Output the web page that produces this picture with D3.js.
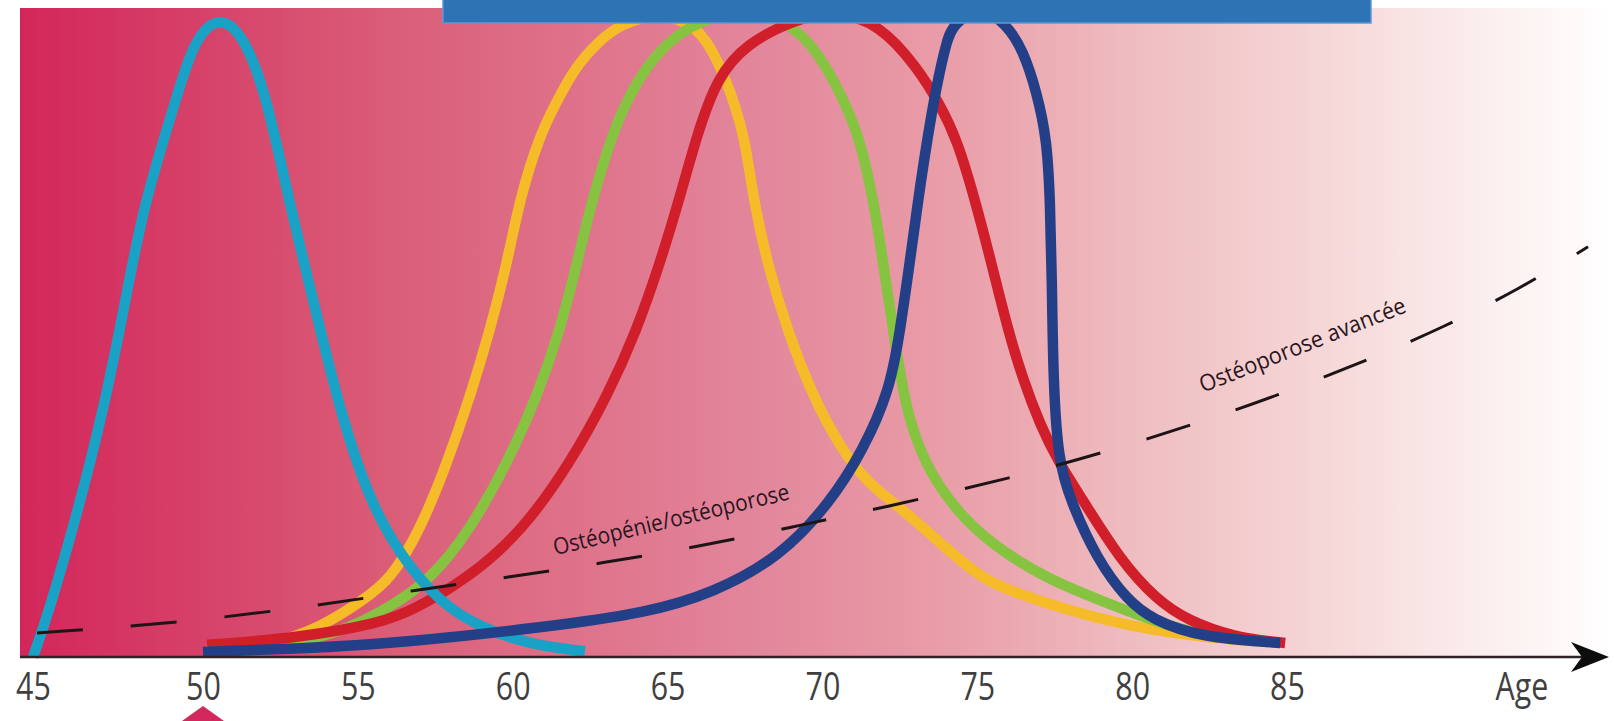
<!DOCTYPE html>
<html><head><meta charset="utf-8">
<script src="https://cdn.jsdelivr.net/npm/d3@7"></script>
<style>html,body{margin:0;padding:0;background:#fff;overflow:hidden}</style>
</head><body><svg id="c" width="1615" height="721"></svg>
<script>
// ---- data (age, relative height 0-100) ----
const tickValues = [45, 50, 55, 60, 65, 70, 75, 80, 85];
const axisTitle = "Age";

const cyanCurve = [[45.00,0],[45.44,6.6],[46.29,22.2],[47.06,38.3],[47.68,54.5],[48.24,70.5],[49.18,86.6],[49.71,96.3],[50.55,100.6],[51.42,96.3],[52.10,86.6],[52.81,70.5],[53.62,54.5],[54.42,38.4],[55.46,23.0],[56.78,13.1],[57.88,7.8],[58.94,4.7],[60.56,1.9],[62.33,0.9]];

const yellowCurve = [[50.13,1.1],[52.07,1.7],[53.78,4.5],[55.17,8.9],[56.04,12.0],[57.01,19.8],[57.88,30.3],[58.62,40.6],[59.27,51.1],[59.82,61.6],[60.24,71.9],[60.88,81.6],[61.37,86.3],[62.01,92.2],[62.82,96.4],[63.46,98.8],[64.69,100.8],[65.95,98.8],[66.63,93.3],[67.18,86.3],[67.50,80.8],[67.76,71.9],[68.21,61.6],[68.86,51.1],[69.70,40.6],[70.57,32.8],[71.44,27.2],[72.51,23.4],[73.80,17.8],[75.02,12.8],[75.73,10.9],[77.90,7.3],[80.03,4.7],[82.19,3.1],[84.78,2.2]];

const greenCurve = [[50.23,1.1],[53.13,2.2],[54.75,4.5],[56.04,7.8],[57.33,12.0],[58.62,19.8],[59.82,30.3],[60.78,40.6],[61.53,51.1],[62.08,61.6],[62.59,71.9],[63.21,81.6],[63.69,87.0],[64.43,93.3],[65.63,98.8],[67.40,101.4],[69.18,98.8],[70.15,92.2],[70.79,85.9],[71.21,80.8],[71.63,71.9],[71.96,61.6],[72.28,51.1],[72.70,38.6],[73.15,32.3],[73.70,27.0],[74.60,21.4],[75.73,16.7],[77.35,12.0],[78.96,8.9],[80.58,5.8],[82.19,3.4],[84.78,2.2]];

const redCurve = [[50.13,1.9],[53.13,3.0],[55.72,5.3],[56.78,7.3],[58.62,12.5],[60.33,19.8],[61.85,30.3],[63.04,40.6],[64.01,51.1],[64.76,61.6],[65.40,71.9],[65.95,81.6],[66.60,90.6],[67.57,95.9],[69.05,99.5],[70.44,101.1],[71.86,98.8],[73.05,92.2],[73.80,86.3],[74.35,80.8],[74.93,71.4],[75.51,60.5],[75.99,51.1],[76.48,43.3],[77.03,36.3],[77.58,30.8],[78.41,24.5],[79.61,15.2],[80.80,8.9],[81.77,5.8],[83.26,3.1],[84.94,2.2]];

const blueCurve = [[50.00,0.8],[53.13,1.3],[56.36,2.2],[61.11,4.7],[64.34,6.9],[66.47,10.0],[68.63,15.6],[70.25,24.1],[71.31,32.3],[72.18,41.7],[72.51,51.1],[72.83,62.0],[73.09,71.4],[73.38,80.8],[73.70,89.7],[74.02,96.4],[74.22,98.8],[75.09,101.9],[75.96,98.8],[76.48,94.8],[76.93,88.1],[77.25,80.8],[77.35,71.4],[77.41,58.9],[77.45,43.3],[77.61,30.8],[78.00,24.5],[78.87,15.2],[79.84,8.9],[80.67,5.8],[82.19,3.1],[84.78,2.2]];

const dashedCurve = [[45.12,3.75],[49.26,5.3],[53.84,8.1],[56.91,10.5],[59.91,12.5],[62.92,14.7],[65.95,17.2],[69.02,20.3],[71.92,23.3],[76.22,28.1],[79.12,32.0],[81.97,36.3],[84.71,40.9],[87.46,46.1],[90.10,51.6],[92.62,57.8],[94.72,64.1]];

const labelTexts = ["Ostéopénie/ostéoporose", "Ostéoporose avancée"];
const labelAnchors = [[61.37, 15.9], [82.29, 41.3]];

// ---- drawing ----
const svg = d3.select("#c");
const x = d3.scaleLinear().domain([45, 50, 85]).range([33, 203, 1287]);
const y = d3.scaleLinear().domain([0, 100]).range([657, 17]);
const base = y(0);

const defs = svg.append("defs");
const grad = defs.append("linearGradient").attr("id","bg").attr("x1","0").attr("x2","1").attr("y1","0").attr("y2","0");
[[0,"#d3265a"],[0.12,"#d6436a"],[0.23,"#da5d77"],[0.45,"#e2849a"],[0.56,"#e899a5"],[0.62,"#eba7af"],[0.69,"#eebbbf"],[0.80,"#f5d3d4"],[0.89,"#fae8e8"],[0.96,"#fef7f7"],[1,"#ffffff"]]
  .forEach(([o,c]) => grad.append("stop").attr("offset", o).attr("stop-color", c));

svg.append("rect").attr("x", 20).attr("y", 8).attr("width", 1595).attr("height", base - 8).attr("fill", "url(#bg)");

const line = d3.line().x(d => x(d[0])).y(d => y(d[1])).curve(d3.curveBasis);

const series = [
  [yellowCurve, "#f6bb29"],
  [greenCurve, "#86c341"],
  [redCurve, "#d01f2b"],
  [cyanCurve, "#1aa2c6"],
  [blueCurve, "#233f88"]
];
svg.append("g").selectAll("path").data(series).join("path")
  .attr("d", d => line(d[0]))
  .attr("fill", "none")
  .attr("stroke", d => d[1])
  .attr("stroke-width", 10.5)
  .attr("stroke-linecap", "butt")
  .attr("stroke-linejoin", "round");

svg.append("path").attr("d", line(dashedCurve))
  .attr("fill", "none").attr("stroke", "#1d1416").attr("stroke-width", 3)
  .attr("stroke-dasharray", "46 48");

svg.append("g").selectAll("text").data(labelTexts).join("text")
  .attr("transform", (d, i) => {
    const a = labelAnchors[i];
    const ang = i === 0 ? -13.4 : -21.6;
    return `translate(${x(a[0])},${y(a[1])}) rotate(${ang})`;
  })
  .attr("font-family", "'Open Sans', 'Liberation Sans', sans-serif")
  .attr("font-size", 23)
  .attr("fill", "#2a151d")
  .attr("textLength", (d, i) => i === 0 ? 242 : 220)
  .attr("lengthAdjust", "spacingAndGlyphs")
  .text(d => d);

// axis line + arrow
svg.append("line").attr("x1", 20).attr("x2", 1585).attr("y1", base).attr("y2", base)
  .attr("stroke", "#2e2224").attr("stroke-width", 2.6);
svg.append("path").attr("d", `M1609,${base} L1571,${base-15} L1582,${base} L1571,${base+15} Z`).attr("fill", "#0d0d0d");

// tick labels via d3 axis
const ax = svg.append("g").attr("transform", `translate(0,${base})`)
  .call(d3.axisBottom(x).tickValues(tickValues).tickSize(0).tickFormat(d3.format("d")));
ax.select(".domain").remove();
ax.selectAll("text")
  .attr("y", 43).attr("dy", 0)
  .attr("font-family", "'Open Sans', 'Liberation Sans', sans-serif")
  .attr("font-size", 38)
  .attr("fill", "#3f3f3f")
  .attr("transform", "scale(0.8,1)");

svg.append("text")
  .attr("transform", `translate(1522,${base + 43}) scale(0.8,1)`)
  .attr("text-anchor", "middle")
  .attr("font-family", "'Open Sans', 'Liberation Sans', sans-serif")
  .attr("font-size", 38)
  .attr("fill", "#3f3f3f")
  .text(axisTitle);

// marker under 50
svg.append("path").attr("d", `M${x(50)},706 L${x(50)-21},721 L${x(50)+21},721 Z`).attr("fill", "#d3285c");

// top blue banner
svg.append("rect").attr("x", 443).attr("y", -2).attr("width", 928).attr("height", 25)
  .attr("fill", "#2e73b4").attr("stroke", "#5a9ad6").attr("stroke-width", 1.5);
</script></body></html>
